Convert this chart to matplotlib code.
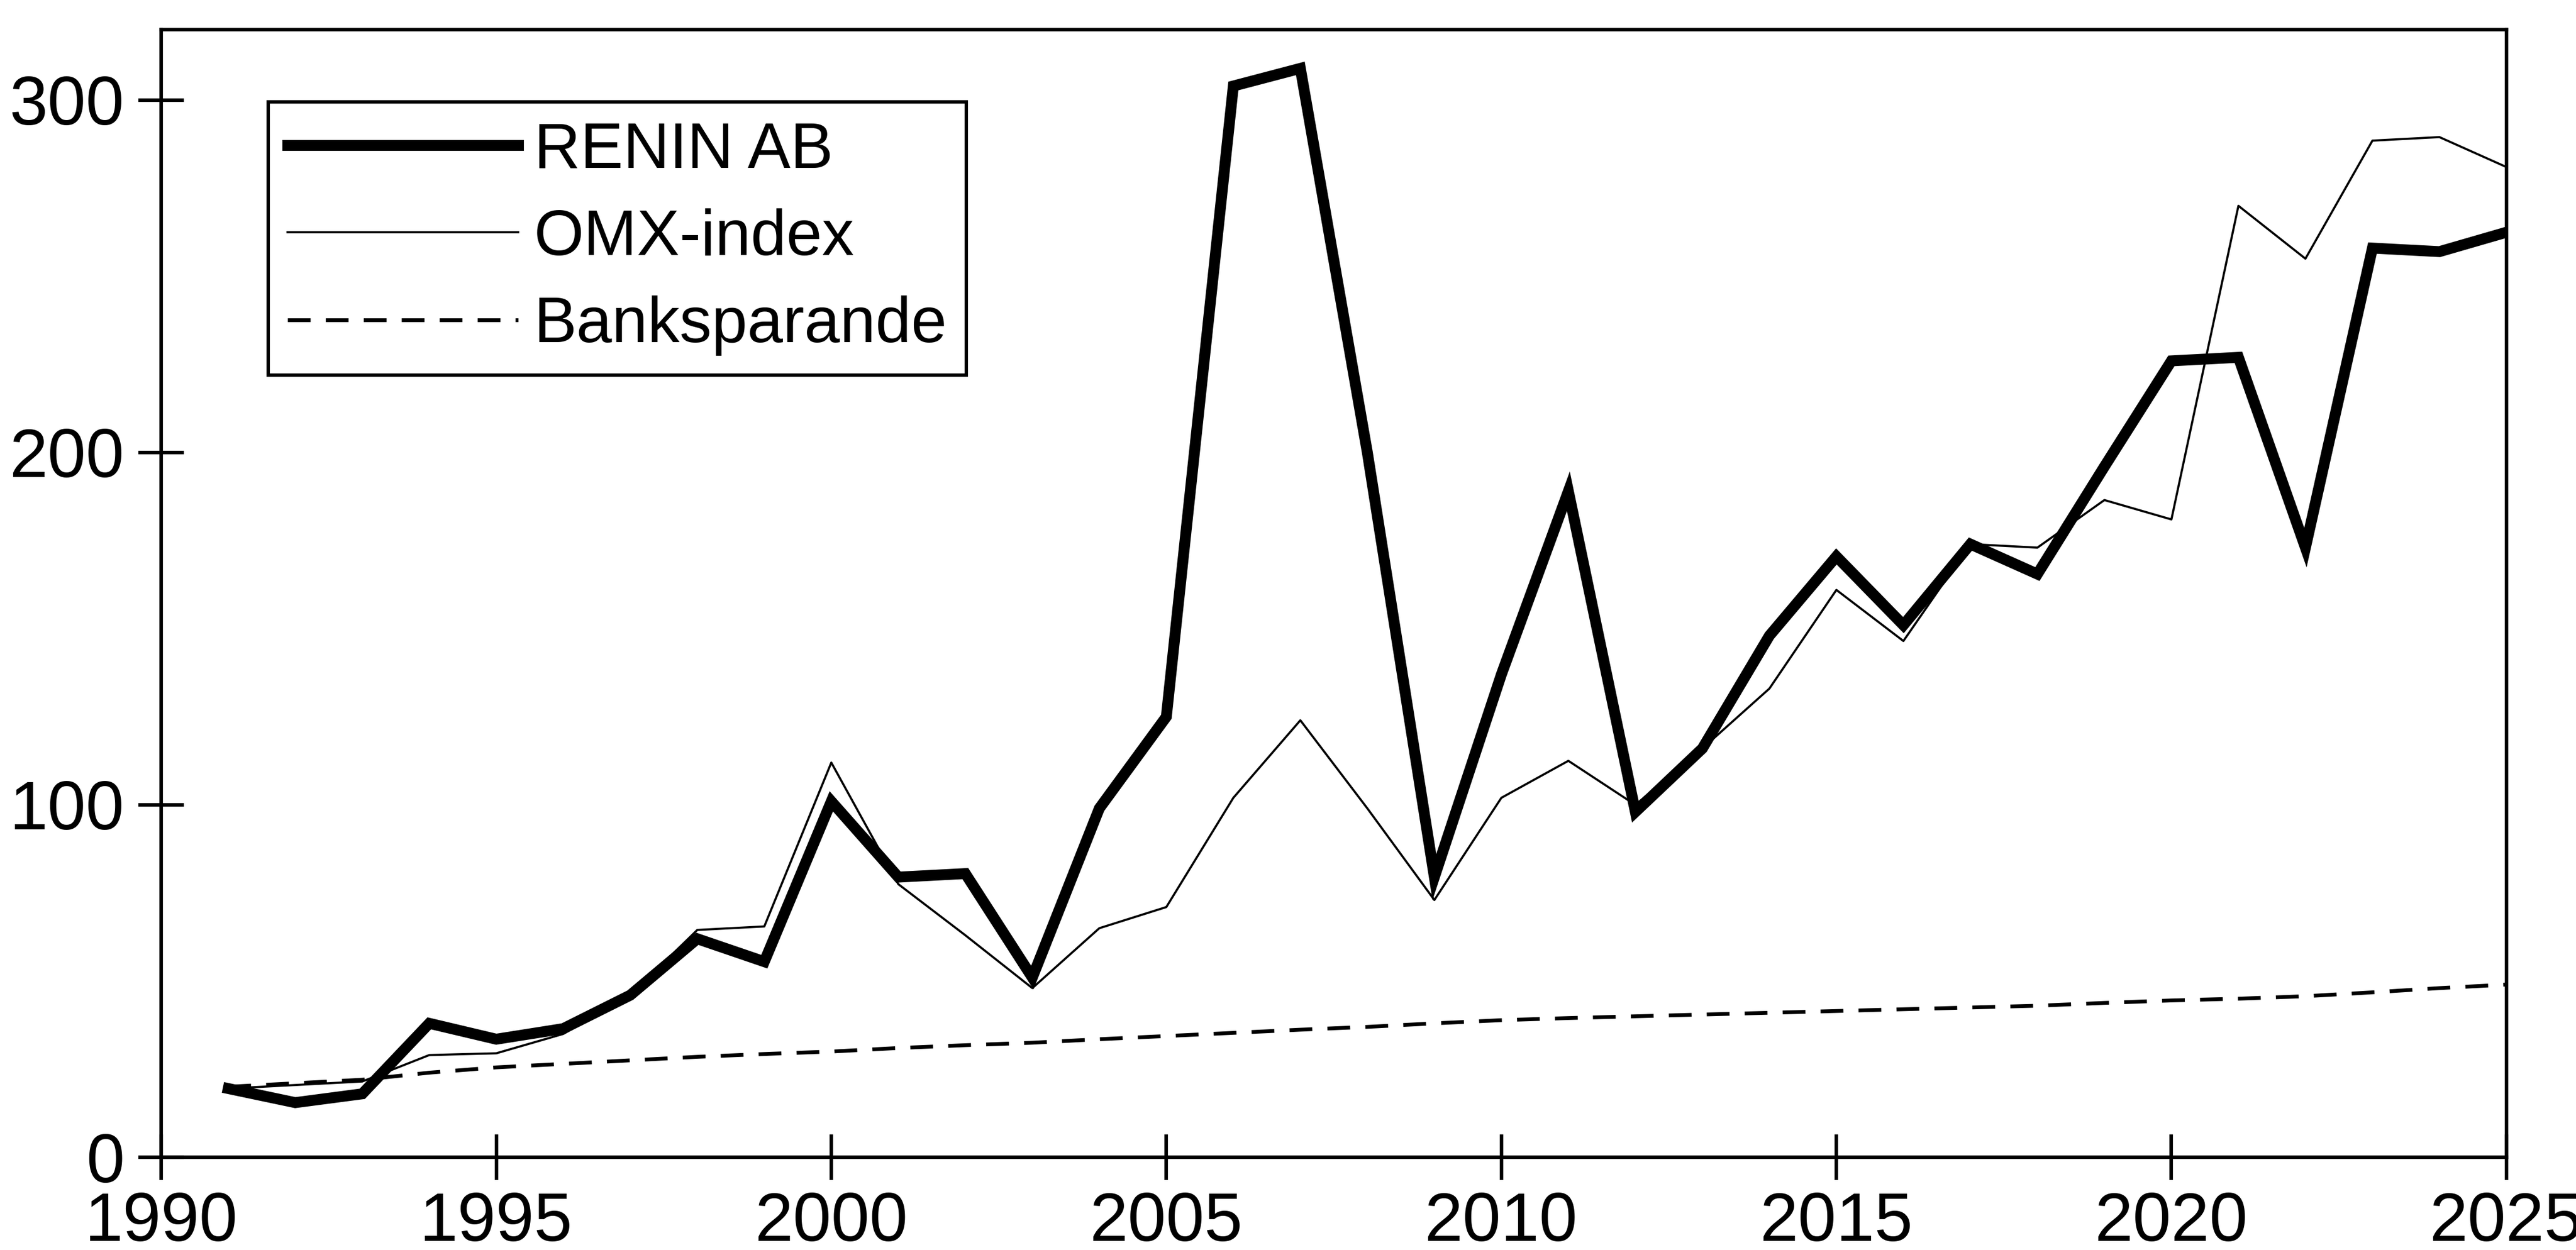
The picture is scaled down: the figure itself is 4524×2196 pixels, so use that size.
import matplotlib
matplotlib.use("Agg")
import matplotlib.pyplot as plt

# ── Data ──────────────────────────────────────────────────────────────────────
years = list(range(1991, 2026))

renin = [19.5, 15.5, 18, 38, 33.5, 36.5, 46, 62, 55.5, 101,
         79.5, 80.5, 51, 99, 125, 304, 309, 200, 79.5, 137,
         189, 98, 116, 148, 170.5, 151, 174, 165.5, 196, 226,
         227, 173, 258, 257, 262.5]

omx = [19.5, 20.5, 21.5, 29, 29.5, 35, 46, 64.5, 65.5, 112,
       77.5, 63, 48, 65, 71, 102, 124, 99, 73, 102,
       112.5, 100, 116, 133, 161, 146.5, 174, 173, 186.5, 181,
       270, 255, 288.5, 289.5, 281]

bank = [20, 21, 22, 24, 25.5, 26.5, 27.5, 28.5, 29.3, 30,
        31, 31.8, 32.5, 33.5, 34.4, 35.3, 36.2, 37, 38, 38.9,
        39.5, 40, 40.5, 41, 41.5, 42, 42.5, 43, 43.8, 44.5,
        45, 45.7, 46.8, 48, 49]

labels = ["RENIN AB", "OMX-index", "Banksparande"]
x_ticks = [1990, 1995, 2000, 2005, 2010, 2015, 2020, 2025]
y_ticks = [0, 100, 200, 300]

# ── Style ─────────────────────────────────────────────────────────────────────
plt.rcParams["font.family"] = ["Liberation Sans", "DejaVu Sans"]

fig = plt.figure(figsize=(15.08, 7.32), dpi=300)
ax = fig.add_axes([0.0626, 0.0742, 0.9104, 0.9021])

ax.plot(years, renin, color="black", lw=4.6, solid_joinstyle="miter", label=labels[0])
ax.plot(years, omx, color="black", lw=0.9, label=labels[1])
ax.plot(years, bank, color="black", lw=1.6, dashes=(6, 4), label=labels[2])

ax.set_xlim(1990, 2025)
ax.set_ylim(0, 320)
ax.set_xticks(x_ticks)
ax.set_yticks(y_ticks)

for s in ax.spines.values():
    s.set_linewidth(1.5)
    s.set_color("black")

ax.tick_params(axis="both", direction="inout", length=19, width=1.5,
               labelsize=29, colors="black")
ax.tick_params(axis="x", pad=5)
ax.tick_params(axis="y", pad=6)

leg = ax.legend(loc="upper left", bbox_to_anchor=(0.0456, 0.936),
                borderaxespad=0, fontsize=27, frameon=True, fancybox=False,
                handlelength=3.6, handletextpad=0.25, labelspacing=0.42,
                borderpad=0.3)
leg.get_frame().set_edgecolor("black")
leg.get_frame().set_linewidth(1.4)
leg.get_frame().set_alpha(1)

fig.savefig("out.png", dpi=300)
